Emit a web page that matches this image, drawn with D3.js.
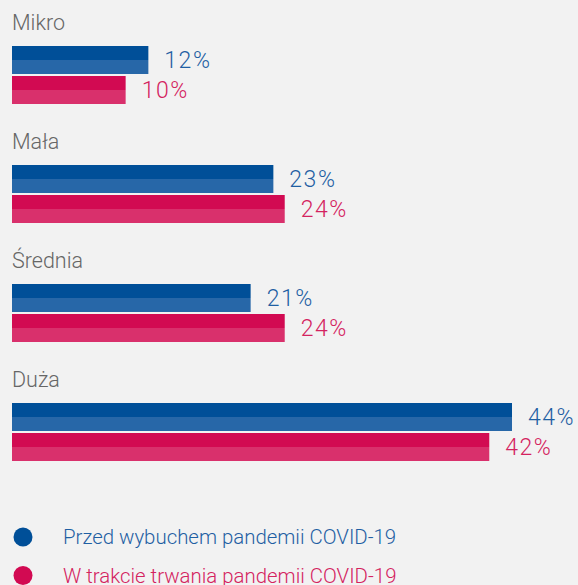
<!DOCTYPE html>
<html><head><meta charset="utf-8">
<script src="https://cdn.jsdelivr.net/npm/d3@7"></script>
<style>html,body{margin:0;padding:0;background:#f2f2f2;}svg{display:block;}</style>
</head><body>
<svg id="c" width="578" height="585"></svg>
<script>
const categories = ["Mikro", "Mała", "Średnia", "Duża"];
const seriesNames = ["Przed wybuchem pandemii COVID-19", "W trakcie trwania pandemii COVID-19"];
const before = [12, 23, 21, 44];
const during = [10, 24, 24, 42];

const dark = ["#004f98", "#d20a52"];
const light = ["#2767a8", "#d9306c"];
const textCol = ["#1f5fa3", "#d4235f"];

const svg = d3.select("#c");
const font = "Roboto, 'Liberation Sans', Arial, sans-serif";

const x = d3.scaleLinear().domain([0, 44]).range([12, 512]);
const gy = d3.scaleBand().domain(categories).range([0, 476]).paddingInner(0);
const sy = d3.scaleBand().domain([0, 1]).range([46, 104]).paddingInner(2/30).paddingOuter(0);

const data = categories.map((c, i) => ({cat: c, vals: [before[i], during[i]]}));

const g = svg.selectAll("g.grp").data(data).join("g").attr("class", "grp")
  .attr("transform", d => `translate(0,${gy(d.cat)})`);

g.append("text").attr("x", 12).attr("y", 30).text(d => d.cat)
  .attr("font-family", font).attr("font-weight", 300).attr("font-size", 21.5).attr("fill", "#666");

g.each(function(d) {
  const sel = d3.select(this);
  d.vals.forEach((v, s) => {
    const y0 = sy(s), h = sy.bandwidth();
    sel.append("rect").attr("x", x(0)).attr("y", y0).attr("width", x(v) - x(0)).attr("height", h / 2).attr("fill", dark[s]);
    sel.append("rect").attr("x", x(0)).attr("y", y0 + h / 2).attr("width", x(v) - x(0)).attr("height", h / 2).attr("fill", light[s]);
    sel.append("text").attr("x", x(v) + 16).attr("y", y0 + h / 2 + 7.5).text(v + "%")
      .attr("font-family", font).attr("font-weight", 300).attr("font-size", 23).attr("letter-spacing", 1.5).attr("fill", textCol[s]);
  });
});

const leg = svg.selectAll("g.leg").data(seriesNames).join("g").attr("class", "leg")
  .attr("transform", (d, i) => `translate(0,${537 + i * 38.5})`);
leg.append("circle").attr("cx", 23).attr("cy", 0).attr("r", 9.5).attr("fill", (d, i) => dark[i]);
leg.append("text").attr("x", 63).attr("y", 7).text(d => d)
  .attr("font-family", font).attr("font-weight", 300).attr("font-size", 20.4).attr("fill", (d, i) => textCol[i]);
</script>
</body></html>
